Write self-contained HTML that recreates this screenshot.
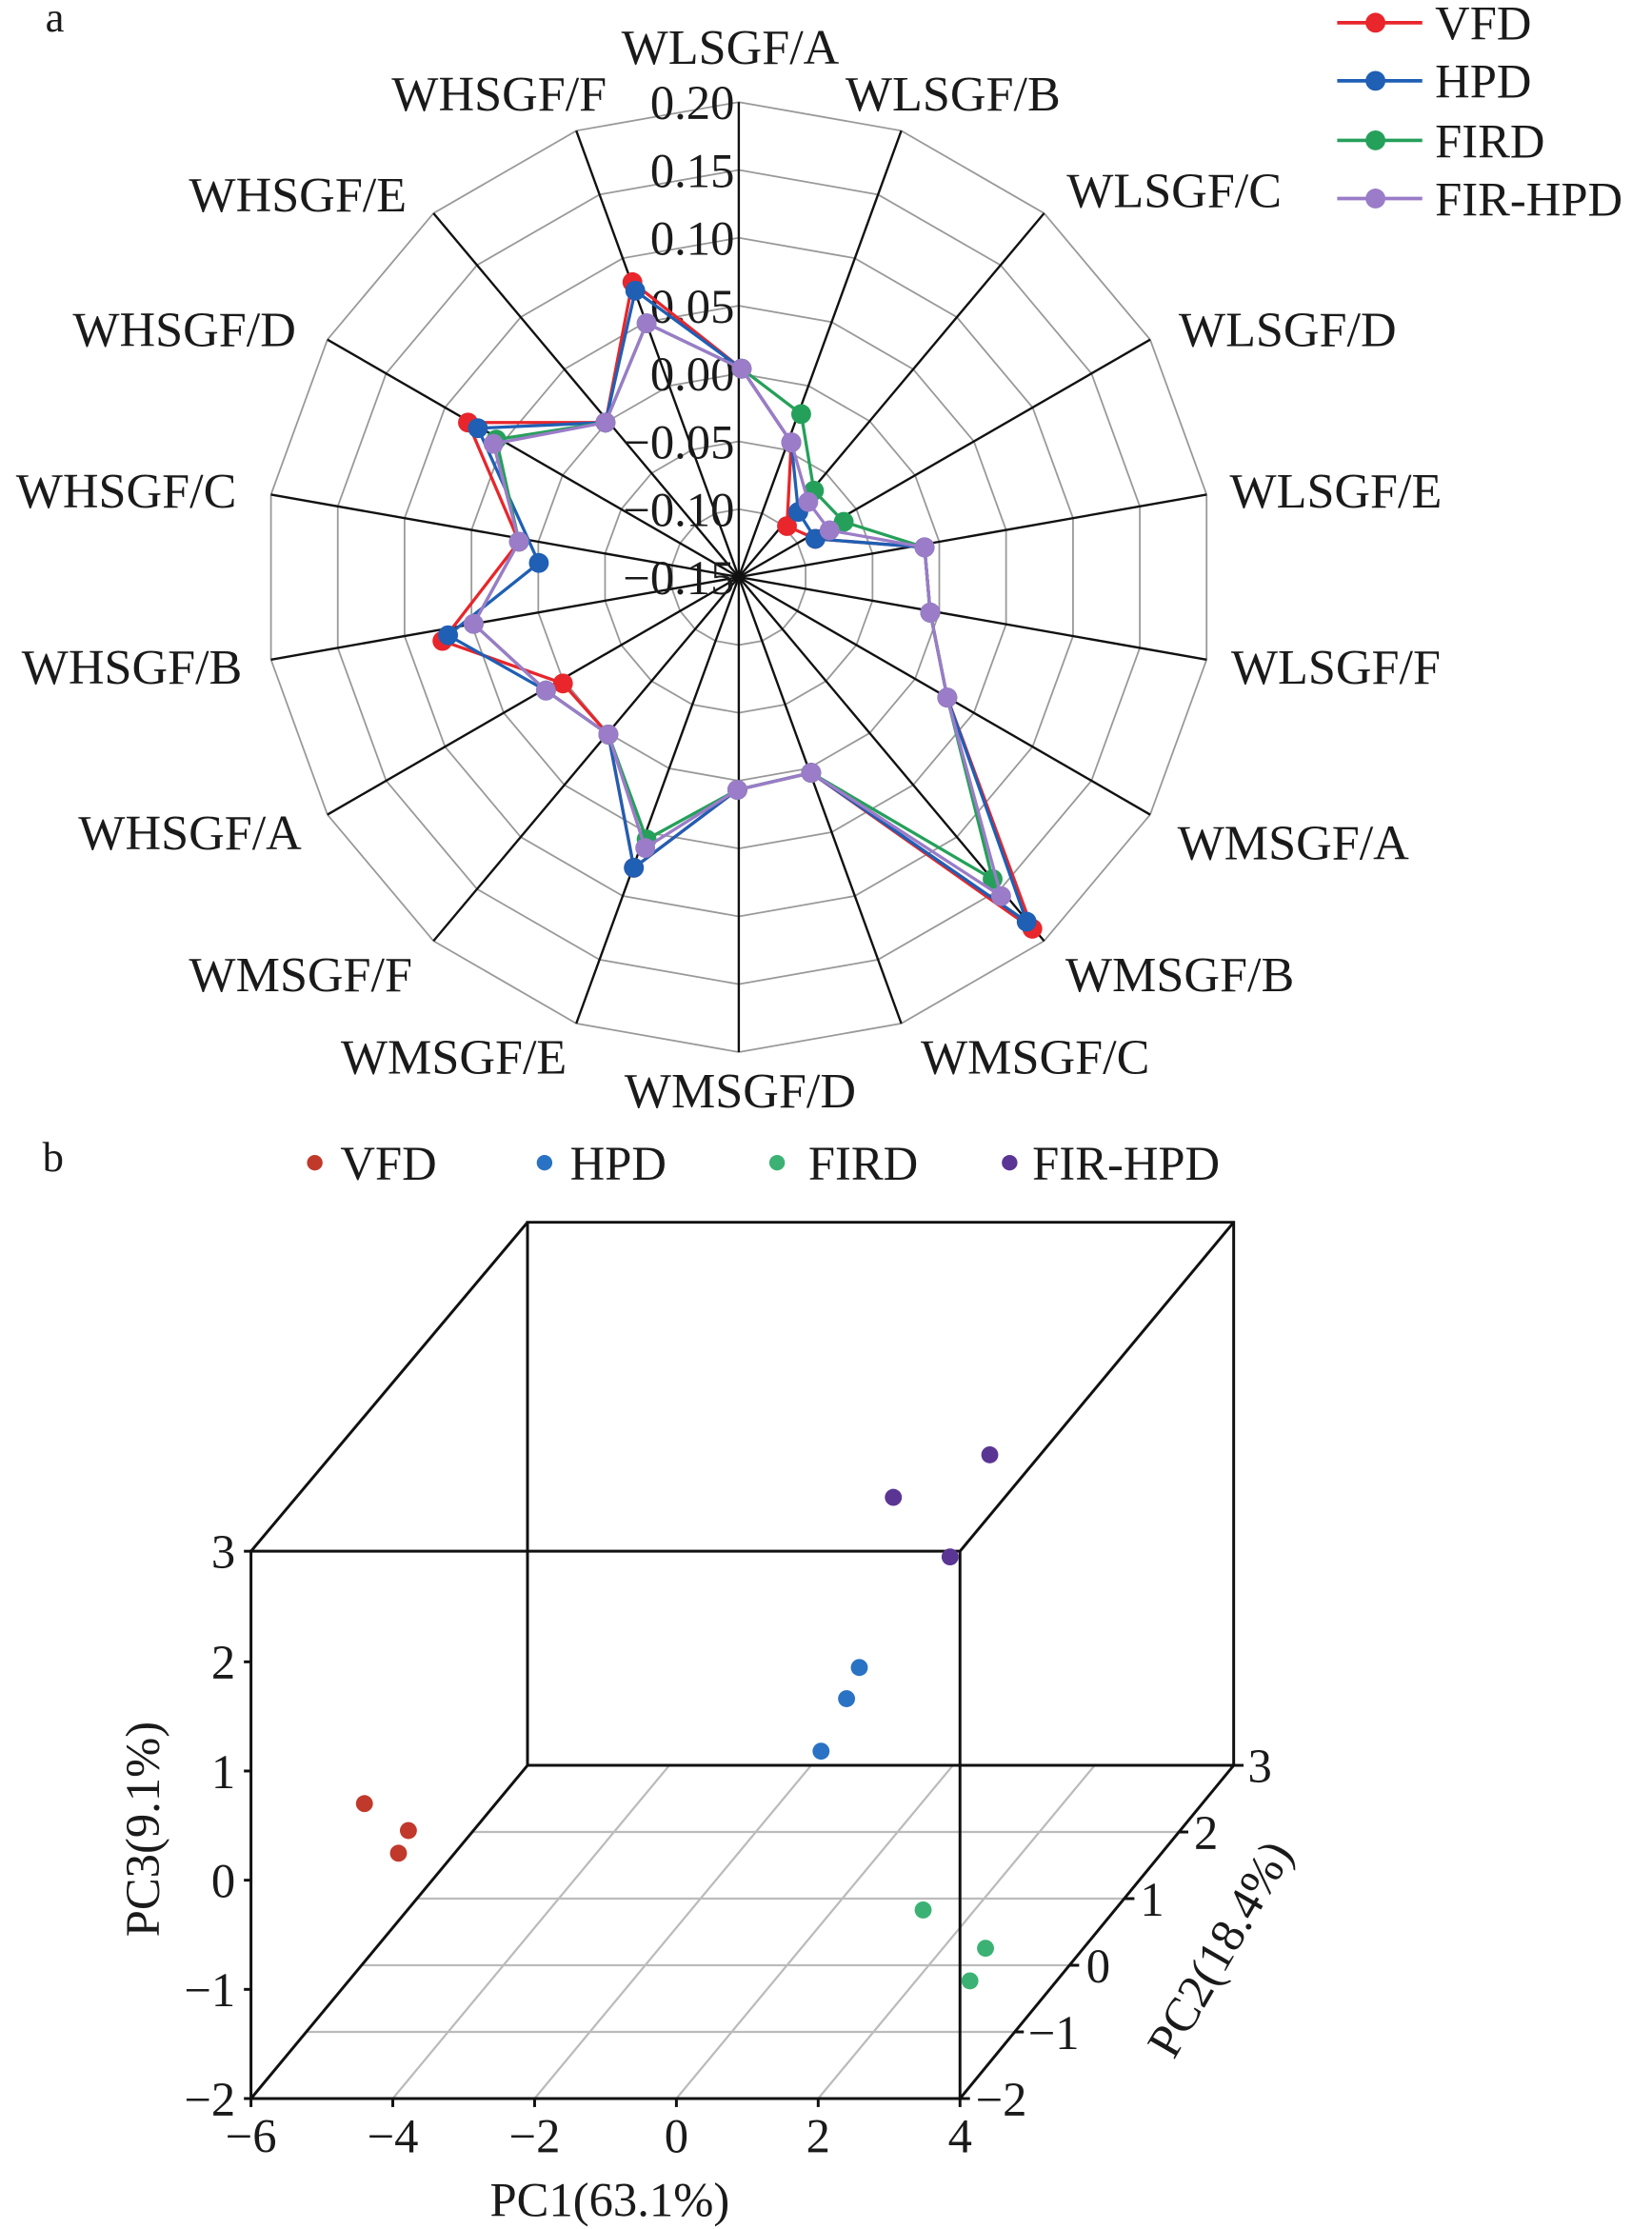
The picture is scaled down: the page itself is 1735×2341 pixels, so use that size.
<!DOCTYPE html>
<html><head><meta charset="utf-8"><style>
html,body{margin:0;padding:0;background:#fff;}
svg{display:block;}
text{font-family:"Liberation Serif",serif;fill:#1a1a1a;}
</style></head><body>
<svg width="1735" height="2341" viewBox="0 0 1165 1572" preserveAspectRatio="none" xmlns="http://www.w3.org/2000/svg">
<g id="radar"></g>
<text x="32" y="22" font-size="30">a</text>
<!-- legend a -->
<g stroke-width="2.5">
<line x1="943" y1="16" x2="1003" y2="16" stroke="#e8262b"/><circle cx="970" cy="16" r="7" fill="#e8262b"/>
<line x1="943" y1="57" x2="1003" y2="57" stroke="#1f5fb4"/><circle cx="970" cy="57" r="7" fill="#1f5fb4"/>
<line x1="943" y1="99" x2="1003" y2="99" stroke="#25a05a"/><circle cx="970" cy="99" r="7" fill="#25a05a"/>
<line x1="943" y1="140" x2="1003" y2="140" stroke="#9b7cc8"/><circle cx="970" cy="140" r="7" fill="#9b7cc8"/>
</g>
<g font-size="34">
<text x="1012" y="28">VFD</text><text x="1012" y="69">HPD</text><text x="1012" y="111">FIRD</text><text x="1012" y="152">FIR-HPD</text>
</g>

<!-- panel b -->
<text x="30" y="826" font-size="30">b</text>
<circle cx="222" cy="820" r="5.5" fill="#c0392b"/><text x="240" y="832" font-size="34">VFD</text>
<circle cx="384" cy="820" r="5.5" fill="#2a72c4"/><text x="402" y="832" font-size="34">HPD</text>
<circle cx="548" cy="820" r="5.5" fill="#3bb273"/><text x="570" y="832" font-size="34">FIRD</text>
<circle cx="712" cy="820" r="5.5" fill="#5b3594"/><text x="728" y="832" font-size="34">FIR-HPD</text>

<g stroke="#bbb" stroke-width="1.5" fill="none">
<line x1="216.6" y1="1433" x2="715.6" y2="1433"/>
<line x1="255.2" y1="1386" x2="754.2" y2="1386"/>
<line x1="293.8" y1="1339" x2="792.8" y2="1339"/>
<line x1="332.4" y1="1292" x2="831.4" y2="1292"/>
<line x1="277" y1="1480" x2="472" y2="1245"/>
<line x1="377" y1="1480" x2="572" y2="1245"/>
<line x1="477" y1="1480" x2="672" y2="1245"/>
<line x1="577" y1="1480" x2="772" y2="1245"/>
</g>
<g stroke="#111" stroke-width="2" fill="none">
<polyline points="372,1245 372,862 870,862 870,1245 372,1245"/>
<line x1="177" y1="1094" x2="372" y2="862"/>
<line x1="677" y1="1094" x2="870" y2="862"/>
<line x1="177" y1="1480" x2="372" y2="1245"/>
<line x1="677" y1="1480" x2="870" y2="1245"/>
<polyline points="177,1480 177,1094 677,1094 677,1480 177,1480"/>
<line x1="172" y1="1094" x2="177" y2="1094"/><line x1="172" y1="1172" x2="177" y2="1172"/><line x1="172" y1="1249" x2="177" y2="1249"/><line x1="172" y1="1326" x2="177" y2="1326"/><line x1="172" y1="1403" x2="177" y2="1403"/><line x1="172" y1="1480" x2="177" y2="1480"/>
<line x1="177" y1="1480" x2="177" y2="1486"/><line x1="277" y1="1480" x2="277" y2="1486"/><line x1="377" y1="1480" x2="377" y2="1486"/><line x1="477" y1="1480" x2="477" y2="1486"/><line x1="577" y1="1480" x2="577" y2="1486"/><line x1="677" y1="1480" x2="677" y2="1486"/>
<line x1="677" y1="1480" x2="684" y2="1480"/><line x1="715.6" y1="1433" x2="722" y2="1433"/><line x1="754.2" y1="1386" x2="761" y2="1386"/><line x1="792.8" y1="1339" x2="800" y2="1339"/><line x1="831.4" y1="1292" x2="838" y2="1292"/><line x1="870" y1="1245" x2="877" y2="1245"/>
</g>
<g font-size="34" text-anchor="end">
<text x="166" y="1106">3</text><text x="166" y="1184">2</text><text x="166" y="1261">1</text><text x="166" y="1338">0</text><text x="166" y="1415">−1</text><text x="166" y="1492">−2</text>
</g>
<g font-size="34" text-anchor="middle">
<text x="177" y="1518">−6</text><text x="277" y="1518">−4</text><text x="377" y="1518">−2</text><text x="477" y="1518">0</text><text x="577" y="1518">2</text><text x="677" y="1518">4</text>
<text x="430" y="1563">PC1(63.1%)</text>
<text transform="translate(112,1290) rotate(-90)">PC3(9.1%)</text>
<text transform="translate(870,1380) rotate(-60)">PC2(18.4%)</text>
</g>
<g font-size="34">
<text x="688" y="1492">−2</text><text x="725" y="1445">−1</text><text x="766" y="1398">0</text><text x="804" y="1351">1</text><text x="842" y="1304">2</text><text x="880" y="1257">3</text>
</g>
<g>
<circle cx="257" cy="1272" r="6" fill="#c0392b"/><circle cx="288" cy="1291" r="6" fill="#c0392b"/><circle cx="281" cy="1307" r="6" fill="#c0392b"/>
<circle cx="606" cy="1176" r="6" fill="#2a72c4"/><circle cx="597" cy="1198" r="6" fill="#2a72c4"/><circle cx="579" cy="1235" r="6" fill="#2a72c4"/>
<circle cx="698" cy="1026" r="6" fill="#5b3594"/><circle cx="630" cy="1056" r="6" fill="#5b3594"/><circle cx="670" cy="1098" r="6" fill="#5b3594"/>
<circle cx="651" cy="1347" r="6" fill="#3bb273"/><circle cx="695" cy="1374" r="6" fill="#3bb273"/><circle cx="684" cy="1397" r="6" fill="#3bb273"/>
</g>
</svg>
<script>
(function(){
var g=document.getElementById('radar'),NS='http://www.w3.org/2000/svg';
var cx=521,cy=407,R=335,n=18,s='';
function pt(i,r){var a=i*20*Math.PI/180;return [cx+r*Math.sin(a),cy-r*Math.cos(a)];}
for(var k=1;k<=7;k++){var p=[];for(var i=0;i<n;i++){var q=pt(i,R*k/7);p.push(q[0].toFixed(1)+','+q[1].toFixed(1));}
s+='<polygon points="'+p.join(' ')+'" fill="none" stroke="#999" stroke-width="1.2"/>';}
for(var i=0;i<n;i++){var q=pt(i,R);s+='<line x1="'+cx+'" y1="'+cy+'" x2="'+q[0].toFixed(1)+'" y2="'+q[1].toFixed(1)+'" stroke="#111" stroke-width="1.6"/>';}
var labels=['WLSGF/A','WLSGF/B','WLSGF/C','WLSGF/D','WLSGF/E','WLSGF/F','WMSGF/A','WMSGF/B','WMSGF/C','WMSGF/D','WMSGF/E','WMSGF/F','WHSGF/A','WHSGF/B','WHSGF/C','WHSGF/D','WHSGF/E','WHSGF/F'];
var lp=[[515,33,'middle'],[672,66,'middle'],[828,134,'middle'],[908,232,'middle'],[942,346,'middle'],[942,470,'middle'],[912,594,'middle'],[832,687,'middle'],[730,745,'middle'],[522,769,'middle'],[320,745,'middle'],[212,687,'middle'],[134,587,'middle'],[93,470,'middle'],[89,346,'middle'],[130,232,'middle'],[210,137,'middle'],[352,66,'middle']];
for(var i=0;i<n;i++)s+='<text x="'+lp[i][0]+'" y="'+(lp[i][1]+12)+'" font-size="35" text-anchor="middle">'+labels[i]+'</text>';
var tl=['0.20','0.15','0.10','0.05','0.00','\u22120.05','\u22120.10','\u22120.15'];
for(var k=0;k<8;k++)s+='<text x="518" y="'+(cy-R+k*R/7+12)+'" font-size="34" text-anchor="end">'+tl[k]+'</text>';
var base=[[523,260],[558,312],[570,354],[585,374],[652,386],[656,432],[668,492],[706,632],[572,545],[520,557],[455,598],[429,518],[385,487],[334,440],[366,382],[348,313],[427,298],[456,228]];
function mod(ch){var b=base.map(function(x){return x.slice();});for(var k in ch)b[k]=ch[k];return b;}
var series=[
['#9b7cc8',base],
['#25a05a',mod({1:[565,292],2:[574,346],3:[595,368],7:[700,620],10:[456,592],15:[350,310]})],
['#1f5fb4',mod({2:[563,361],3:[575,380],7:[724,650],10:[447,612],13:[316,448],14:[380,397],15:[337,302],17:[448,205]})],
['#e8262b',mod({2:[555,371],3:[575,380],7:[728,655],10:[447,612],12:[397,482],13:[312,452],15:[330,298],17:[446,199]})]];
var order=[3,2,1,0];
order.forEach(function(j){var c=series[j][0],p=series[j][1];
s+='<polygon points="'+p.map(function(x){return x.join(',');}).join(' ')+'" fill="none" stroke="'+c+'" stroke-width="2.2"/>';
p.forEach(function(x){s+='<circle cx="'+x[0]+'" cy="'+x[1]+'" r="7" fill="'+c+'"/>';});});
g.innerHTML=s;
})();
</script>
</body></html>
